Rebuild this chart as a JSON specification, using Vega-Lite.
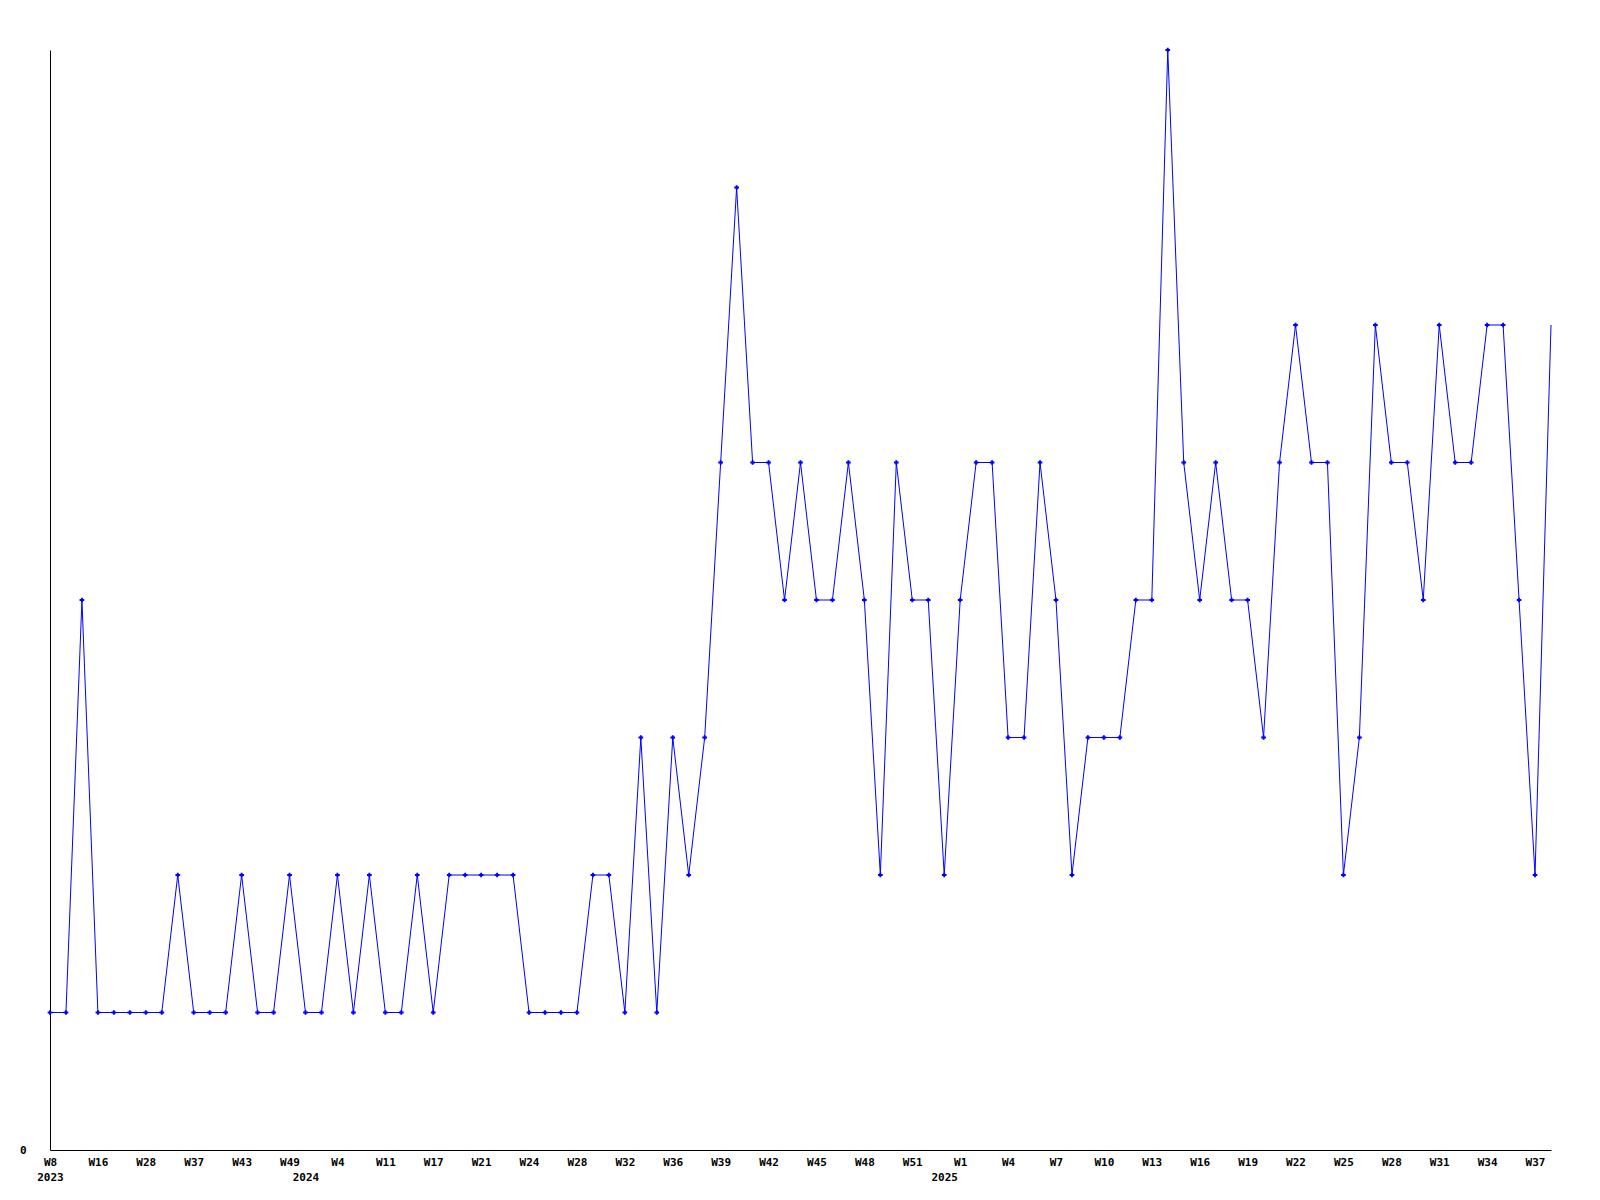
{
  "$schema": "https://vega.github.io/schema/vega-lite/v6.json",
  "width": 1501,
  "height": 1100,
  "autosize": {"type": "none"},
  "padding": {"left": 50, "top": 50, "right": 49, "bottom": 50},
  "background": "white",
  "config": {
    "view": {"stroke": null},
    "axis": {
      "labelFont": "DejaVu Sans Mono",
      "labelFontWeight": "bold",
      "labelFontSize": 11,
      "labelColor": "black",
      "domainColor": "black",
      "domainWidth": 1,
      "ticks": false,
      "grid": false,
      "title": null
    }
  },
  "data": {
    "values": [
      {"n": 0, "value": 1}, {"n": 1, "value": 1}, {"n": 2, "value": 4}, {"n": 3, "value": 1}, {"n": 4, "value": 1},
      {"n": 5, "value": 1}, {"n": 6, "value": 1}, {"n": 7, "value": 1}, {"n": 8, "value": 2}, {"n": 9, "value": 1},
      {"n": 10, "value": 1}, {"n": 11, "value": 1}, {"n": 12, "value": 2}, {"n": 13, "value": 1}, {"n": 14, "value": 1},
      {"n": 15, "value": 2}, {"n": 16, "value": 1}, {"n": 17, "value": 1}, {"n": 18, "value": 2}, {"n": 19, "value": 1},
      {"n": 20, "value": 2}, {"n": 21, "value": 1}, {"n": 22, "value": 1}, {"n": 23, "value": 2}, {"n": 24, "value": 1},
      {"n": 25, "value": 2}, {"n": 26, "value": 2}, {"n": 27, "value": 2}, {"n": 28, "value": 2}, {"n": 29, "value": 2},
      {"n": 30, "value": 1}, {"n": 31, "value": 1}, {"n": 32, "value": 1}, {"n": 33, "value": 1}, {"n": 34, "value": 2},
      {"n": 35, "value": 2}, {"n": 36, "value": 1}, {"n": 37, "value": 3}, {"n": 38, "value": 1}, {"n": 39, "value": 3},
      {"n": 40, "value": 2}, {"n": 41, "value": 3}, {"n": 42, "value": 5}, {"n": 43, "value": 7}, {"n": 44, "value": 5},
      {"n": 45, "value": 5}, {"n": 46, "value": 4}, {"n": 47, "value": 5}, {"n": 48, "value": 4}, {"n": 49, "value": 4},
      {"n": 50, "value": 5}, {"n": 51, "value": 4}, {"n": 52, "value": 2}, {"n": 53, "value": 5}, {"n": 54, "value": 4},
      {"n": 55, "value": 4}, {"n": 56, "value": 2}, {"n": 57, "value": 4}, {"n": 58, "value": 5}, {"n": 59, "value": 5},
      {"n": 60, "value": 3}, {"n": 61, "value": 3}, {"n": 62, "value": 5}, {"n": 63, "value": 4}, {"n": 64, "value": 2},
      {"n": 65, "value": 3}, {"n": 66, "value": 3}, {"n": 67, "value": 3}, {"n": 68, "value": 4}, {"n": 69, "value": 4},
      {"n": 70, "value": 8}, {"n": 71, "value": 5}, {"n": 72, "value": 4}, {"n": 73, "value": 5}, {"n": 74, "value": 4},
      {"n": 75, "value": 4}, {"n": 76, "value": 3}, {"n": 77, "value": 5}, {"n": 78, "value": 6}, {"n": 79, "value": 5},
      {"n": 80, "value": 5}, {"n": 81, "value": 2}, {"n": 82, "value": 3}, {"n": 83, "value": 6}, {"n": 84, "value": 5},
      {"n": 85, "value": 5}, {"n": 86, "value": 4}, {"n": 87, "value": 6}, {"n": 88, "value": 5}, {"n": 89, "value": 5},
      {"n": 90, "value": 6}, {"n": 91, "value": 6}, {"n": 92, "value": 4}, {"n": 93, "value": 2}, {"n": 94, "value": 6}
    ]
  },
  "encoding": {
    "x": {
      "field": "n",
      "type": "quantitative",
      "scale": {"domain": [0, 94], "nice": false, "zero": false},
      "axis": {
        "values": [0, 3, 6, 9, 12, 15, 16, 18, 21, 24, 27, 30, 33, 36, 39, 42, 45, 48, 51, 54, 56, 57, 60, 63, 66, 69, 72, 75, 78, 81, 84, 87, 90, 93],
        "labelExpr": "datum.value == 0 ? ['W8', '2023'] : datum.value == 16 ? ['', '2024'] : datum.value == 56 ? ['', '2025'] : ['W8','W16','W28','W37','W43','W49','W4','W11','W17','W21','W24','W28','W32','W36','W39','W42','W45','W48','W51','W1','W4','W7','W10','W13','W16','W19','W22','W25','W28','W31','W34','W37'][datum.value / 3]",
        "labelOverlap": false,
        "labelBound": false,
        "labelFlush": false,
        "labelLineHeight": 15,
        "labelPadding": 6,
        "labelDx": -2,
        "labelBaseline": "top"
      }
    },
    "y": {
      "field": "value",
      "type": "quantitative",
      "scale": {"domain": [0, 8], "nice": false},
      "axis": {"values": [0], "labelPadding": 24, "labelFlush": false}
    }
  },
  "layer": [
    {"mark": {"type": "line", "color": "#0000ff", "strokeWidth": 1}},
    {
      "transform": [{"filter": "datum.n < 94"}],
      "mark": {"type": "point", "shape": "cross", "filled": true, "color": "#0000ff", "size": 22, "opacity": 1}
    }
  ]
}
